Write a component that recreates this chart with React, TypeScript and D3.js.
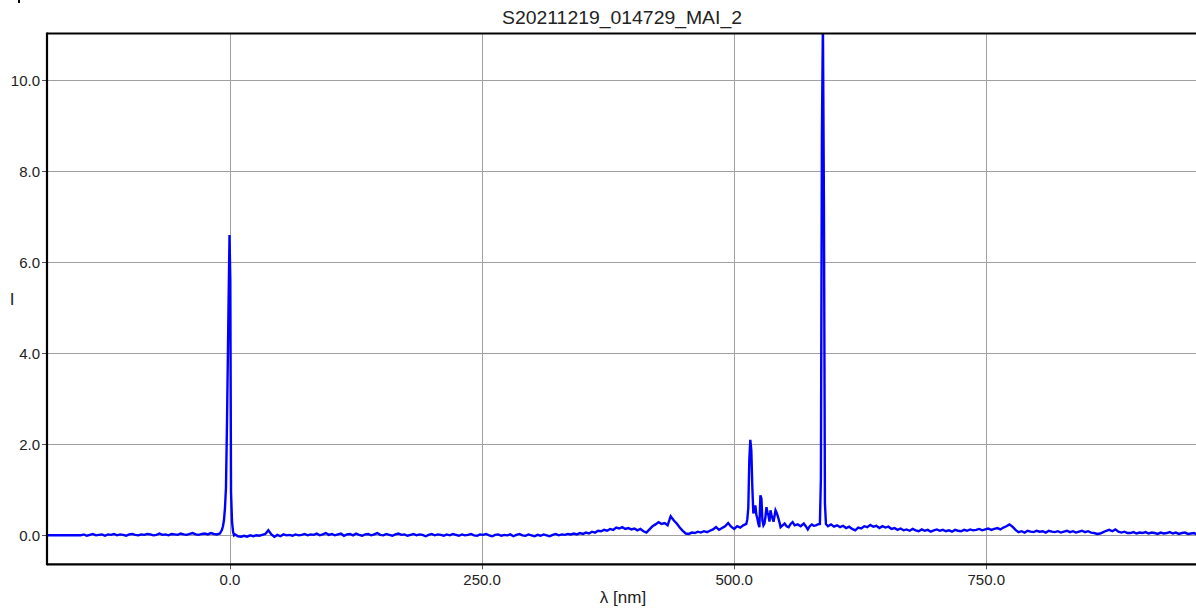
import React from "react";
import * as d3 from "d3";

const chartTitle = "S20211219_014729_MAI_2";
const xAxisLabel = "λ [nm]";
const yAxisLabel = "I";
const xTicks = [0, 250, 500, 750];
const yTicks = [0, 2, 4, 6, 8, 10];
const xDomain = [-181.5, 958];
const yDomain = [-0.637, 11.03];

// flat start of the spectrum [nm, I]
const flatStart: [number, number][] = [[-182, 0], [-149, 0]];

// noisy baseline before the Rayleigh line: start -148 nm, step 3 nm
const leftStart = -148;
const leftStep = 3;
const leftValues = [
  0.00, 0.02, -0.01, 0.01, 0.03, 0.00, 0.01, 0.02, -0.01, 0.02,
  0.01, 0.03, 0.00, 0.02, 0.01, -0.01, 0.02, 0.03, 0.01, 0.00,
  0.02, 0.01, 0.03, 0.02, 0.00, 0.01, 0.04, 0.01, 0.02, 0.00,
  0.03, 0.02, 0.01, 0.04, 0.02, 0.01, 0.03, 0.05, 0.02, 0.01,
  0.03, 0.04, 0.02, 0.05, 0.03, 0.02, 0.04,
];

// Rayleigh line near 0 nm [nm, I]
const rayleighPeak: [number, number][] = [
  [-8, 0.12], [-7, 0.2], [-6, 0.33], [-5, 0.6], [-4, 1.05], [-3, 2.46],
  [-1.5, 5.0], [-0.5, 6.6], [0.3, 5.6], [1, 0.95], [2, 0.3], [3, 0.08], [4, 0.0],
];

// baseline after the Rayleigh line: start 5 nm, step 3 nm
const midStart = 5;
const midStep = 3;
const midValues = [
  0.02, -0.02, -0.03, -0.01, -0.03, 0.00, -0.02, 0.00, -0.01, 0.01, 0.03, 0.11, 0.02, -0.03, 0.01, -0.02, 0.02, 0.00, 0.01, -0.01,
  0.02, 0.00, 0.01, 0.03, 0.00, 0.02, 0.01, 0.04, 0.00, 0.02, 0.05, 0.01, 0.03, 0.00, 0.02, 0.04, -0.01, 0.02, 0.03, 0.00,
  0.04, 0.01, -0.01, 0.02, 0.03, 0.00, 0.02, 0.05, 0.01, 0.00, 0.03, 0.01, -0.01, 0.02, 0.04, 0.01, 0.02, -0.01, 0.01, 0.03,
  0.00, 0.02, 0.01, -0.02, 0.01, 0.03, 0.00, 0.02, 0.01, -0.01, 0.02, 0.00, 0.03, 0.01, -0.01, 0.02, 0.00, 0.01, 0.03, 0.00,
  -0.01, 0.02, 0.01, 0.03, 0.00, -0.02, 0.01, 0.02, -0.01, 0.01, 0.00, 0.02, -0.02, 0.01, 0.03, 0.00, -0.01, 0.02, 0.00, -0.02,
  0.01, -0.01, 0.02, 0.00, -0.02, 0.01, 0.03, 0.00, 0.02, 0.01, 0.03, 0.02, 0.04,
];

// broad fluorescence hump: start 344 nm, step 3 nm
const humpStart = 344;
const humpStep = 3;
const humpValues = [
  0.02, 0.05, 0.03, 0.06, 0.04, 0.08, 0.06, 0.10, 0.09, 0.12, 0.10, 0.14, 0.12, 0.17, 0.15, 0.18, 0.14, 0.16, 0.13, 0.15,
  0.11, 0.14, 0.09, 0.06, 0.13, 0.20, 0.24, 0.29, 0.25, 0.27, 0.22, 0.42, 0.33, 0.26, 0.17, 0.10, 0.04, 0.03, 0.06, 0.05,
  0.08, 0.06, 0.09, 0.07, 0.10, 0.13, 0.18, 0.12, 0.16, 0.20, 0.27, 0.19, 0.14, 0.20, 0.17, 0.22, 0.25,
];

// Raman cluster and main line [nm, I]
const ramanCluster: [number, number][] = [
  [513, 0.35], [514, 0.6], [515, 1.65], [516, 2.1], [517, 1.87], [518, 1.06], [519, 0.48], [520, 0.55],
  [521, 0.66], [522, 0.45], [523, 0.37], [524, 0.25], [525, 0.18], [526, 0.88], [527, 0.81], [528, 0.33],
  [529, 0.22], [530, 0.26], [531, 0.4], [532, 0.62], [533, 0.5], [534, 0.44], [535, 0.3], [536, 0.55],
  [537, 0.45], [538, 0.37], [539, 0.3], [540, 0.42], [541, 0.55], [542, 0.5], [543, 0.44], [545, 0.28],
  [546, 0.18], [548, 0.22], [550, 0.26], [552, 0.2], [554, 0.18], [556, 0.25], [558, 0.29], [560, 0.22],
  [563, 0.24], [566, 0.2], [569, 0.26], [571, 0.2], [573, 0.13], [575, 0.2], [577, 0.24], [579, 0.21],
  [581, 0.22], [583, 0.24], [585, 0.25],
];
const mainPeak: [number, number][] = [
  [586, 1.25], [587, 8.8], [588, 11.3], [589, 7.3], [590, 0.7], [591, 0.25],
];

// tail after the main line: start 593 nm, step 3 nm
const tailStart = 593;
const tailStep = 3;
const tailValues = [
  0.20, 0.24, 0.19, 0.22, 0.18, 0.21, 0.16, 0.19, 0.14, 0.11,
  0.17, 0.15, 0.20, 0.18, 0.23, 0.19, 0.21, 0.16, 0.20, 0.17,
  0.19, 0.14, 0.16, 0.12, 0.15, 0.11, 0.13, 0.10, 0.14, 0.11,
  0.09, 0.13, 0.10, 0.12, 0.08, 0.11, 0.13, 0.10, 0.12, 0.09,
  0.11, 0.08, 0.12, 0.10, 0.09, 0.12, 0.10, 0.13, 0.11, 0.12,
  0.14, 0.11, 0.13, 0.15, 0.12, 0.14, 0.16, 0.13, 0.17, 0.20,
  0.24, 0.19, 0.12, 0.07, 0.09, 0.06, 0.10, 0.08, 0.07, 0.10,
  0.08, 0.09, 0.06, 0.10, 0.08, 0.07, 0.09, 0.06, 0.08, 0.10,
  0.07, 0.09, 0.06, 0.08, 0.10, 0.07, 0.09, 0.06, 0.05, 0.03,
  0.04, 0.07, 0.10, 0.12, 0.09, 0.13, 0.08, 0.06, 0.08, 0.05,
  0.05, 0.07, 0.04, 0.06, 0.05, 0.07, 0.04, 0.06, 0.05, 0.03,
  0.06, 0.04, 0.05, 0.07, 0.04, 0.06, 0.03, 0.05, 0.06, 0.03,
  0.04, 0.05, 0.02,
];

const stepped = (start: number, step: number, vals: number[]): [number, number][] =>
  vals.map((v, i) => [start + i * step, v]);

const spectrum: [number, number][] = [
  ...flatStart,
  ...stepped(leftStart, leftStep, leftValues),
  ...rayleighPeak,
  ...stepped(midStart, midStep, midValues),
  ...stepped(humpStart, humpStep, humpValues),
  ...ramanCluster,
  ...mainPeak,
  ...stepped(tailStart, tailStep, tailValues),
];

const W = 1196;
const H = 610;
const left = 47;
const right = 1196;
const top = 33.5;
const bottom = 564.3;
const FONT = "'Liberation Sans', Arial, sans-serif";

export default function App() {
  const x = d3.scaleLinear().domain(xDomain).range([left, right]);
  const y = d3.scaleLinear().domain(yDomain).range([bottom, top]);
  const line = d3
    .line<[number, number]>()
    .x((d) => x(d[0]))
    .y((d) => y(d[1]));
  const fmt = d3.format(".1f");

  return (
    <svg
      width={W}
      height={H}
      style={{ position: "absolute", left: 0, top: 0, background: "#fff" }}
      fontFamily={FONT}
    >
      <rect x={0} y={0} width={W} height={H} fill="#fff" />
      <rect x={18} y={0} width={2} height={3} fill="#000" />
      <defs>
        <clipPath id="plotClip">
          <rect x={left} y={top} width={right - left} height={bottom - top} />
        </clipPath>
      </defs>
      {/* grid */}
      {yTicks.map((t) => (
        <g key={"y" + t}>
          <line x1={left} x2={right} y1={Math.round(y(t)) + 0.5} y2={Math.round(y(t)) + 0.5} stroke="#a0a0a0" strokeWidth={1} />
          <line x1={left - 5} x2={left} y1={Math.round(y(t)) + 0.5} y2={Math.round(y(t)) + 0.5} stroke="#555" strokeWidth={1} />
          <text x={40} y={y(t)} dy="0.36em" textAnchor="end" fontSize={15} fill="#222">
            {fmt(t)}
          </text>
        </g>
      ))}
      {xTicks.map((t) => (
        <g key={"x" + t}>
          <line x1={Math.round(x(t)) + 0.5} x2={Math.round(x(t)) + 0.5} y1={top} y2={bottom + 4} stroke="#a0a0a0" strokeWidth={1} />
          <line x1={Math.round(x(t)) + 0.5} x2={Math.round(x(t)) + 0.5} y1={bottom} y2={bottom + 5} stroke="#555" strokeWidth={1} />
          <text x={x(t)} y={585} textAnchor="middle" fontSize={15} fill="#222">
            {fmt(t)}
          </text>
        </g>
      ))}
      <g clipPath="url(#plotClip)">
        <path d={line(spectrum) || ""} fill="none" stroke="#0000ff" strokeWidth={2.4} strokeLinejoin="miter" />
      </g>
      {/* frame */}
      <line x1={left} x2={left} y1={top - 1} y2={bottom + 1} stroke="#000" strokeWidth={2.2} />
      <line x1={left} x2={right} y1={top} y2={top} stroke="#000" strokeWidth={2.2} />
      <line x1={left} x2={right} y1={bottom} y2={bottom} stroke="#000" strokeWidth={2.2} />
      <text x={622} y={24} textAnchor="middle" fontSize={19} textLength={240} lengthAdjust="spacingAndGlyphs" fill="#222">
        {chartTitle}
      </text>
      <text x={623} y={603} textAnchor="middle" fontSize={17} fill="#222">
        {xAxisLabel}
      </text>
      <text x={12} y={305} textAnchor="middle" fontSize={17} fill="#222">
        {yAxisLabel}
      </text>
    </svg>
  );
}
